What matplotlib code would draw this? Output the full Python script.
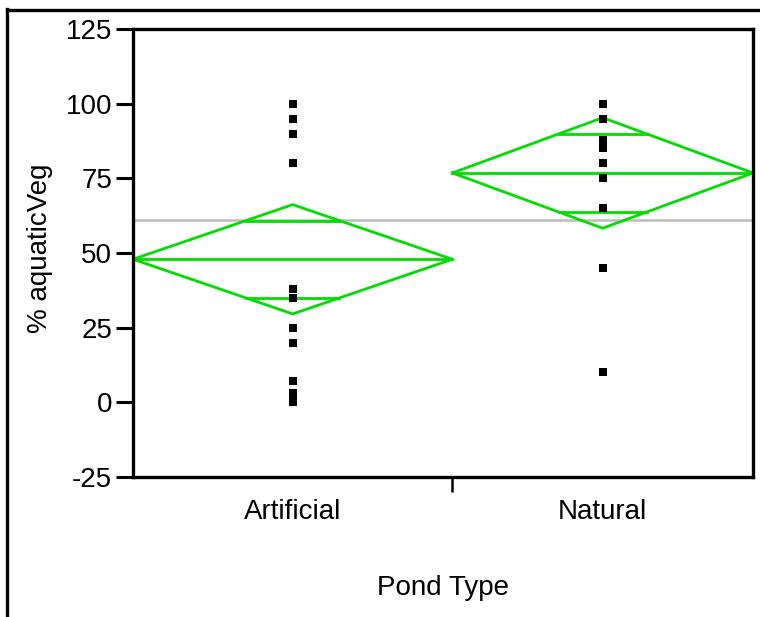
import matplotlib.pyplot as plt, numpy as np
from matplotlib.lines import Line2D

plt.rcParams['font.family'] = ['Liberation Sans', 'DejaVu Sans']
plt.rcParams['axes.unicode_minus'] = False

# data
groups = ['Artificial', 'Natural']
group_n = [17, 16]
artificial = [100, 95, 90, 80, 38, 35, 25, 20, 7, 3, 2, 2, 1, 0]
natural = [100, 95, 88, 85, 80, 75, 65, 45, 10]
group_means = [47.9, 76.8]
ci_half = [18.3, 18.5]
grand_mean = 61.2

green = '#00dd00'

fig = plt.figure(figsize=(7.6, 6.17), dpi=100)
ax = fig.add_axes([133 / 760, 1 - 477 / 617, 620 / 760, 448 / 617])

# group positions, width proportional to group size
edges = np.concatenate([[0], np.cumsum(group_n)])
centers = (edges[:-1] + edges[1:]) / 2

# grand mean line
ax.axhline(grand_mean, color='#bbbbbb', lw=1.8, zorder=1)

# means diamonds
for i in range(len(groups)):
    left, right, mid = edges[i], edges[i + 1], centers[i]
    m, h = group_means[i], ci_half[i]
    ax.plot([left, mid, right, mid, left], [m, m + h, m, m - h, m],
            color=green, lw=2, zorder=2)
    ax.plot([left, right], [m, m], color=green, lw=2, zorder=2)
    # overlap marks
    d = h / np.sqrt(2)
    frac = 1 - d / h
    for y in (m + d, m - d):
        ax.plot([mid - frac * (mid - left), mid + frac * (right - mid)], [y, y],
                color=green, lw=2, zorder=2)

# points
for i, vals in enumerate([artificial, natural]):
    ax.plot(np.full(len(vals), centers[i]), vals, 's', color='black',
            markersize=5.5, markeredgewidth=0, zorder=3)

ax.set_xlim(0, edges[-1])
ax.set_ylim(-25, 125)
ax.set_yticks(np.arange(-25, 126, 25))
ax.tick_params(axis='y', length=12, width=2.2, pad=3, labelsize=20)
ax.set_xticks(centers)
ax.set_xticklabels(groups)
ax.tick_params(axis='x', which='major', length=0, pad=16, labelsize=20)
ax.set_xticks(edges[1:-1], minor=True)
ax.tick_params(axis='x', which='minor', length=11, width=1.8)
for s in ax.spines.values():
    s.set_linewidth(2.4)

fig.text(443 / 760, 1 - 588 / 617, 'Pond Type', fontsize=20, ha='center', va='center')
fig.text(40 / 760, 1 - 248 / 617, '% aquaticVeg', fontsize=20, ha='center', va='center',
         rotation=90)

# outer frame
fig.add_artist(Line2D([7 / 760, 7 / 760], [0, 1 - 9 / 617], color='black', lw=2.4))
fig.add_artist(Line2D([7 / 760, 1], [1 - 10 / 617, 1 - 10 / 617], color='black', lw=2.4))

plt.savefig('out.png', dpi=100)
